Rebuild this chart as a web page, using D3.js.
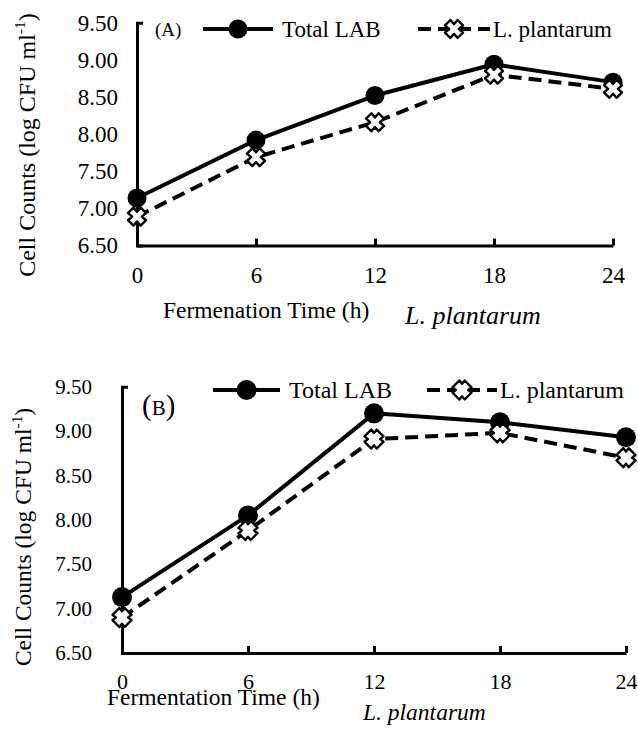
<!DOCTYPE html>
<html><head><meta charset="utf-8">
<script src="https://cdn.jsdelivr.net/npm/d3@7"></script>
<style>body{margin:0;background:#fff}svg{display:block}</style>
</head><body>
<svg id="c" width="638" height="733"></svg>
<script>
const hours = [0, 6, 12, 18, 24];
const yTicks = [6.5, 7.0, 7.5, 8.0, 8.5, 9.0, 9.5];
const seriesNames = ["Total LAB", "L. plantarum"];
const totalA = [7.14, 7.92, 8.52, 8.94, 8.70];
const plantA = [6.89, 7.69, 8.16, 8.80, 8.61];
const totalB = [7.13, 8.05, 9.20, 9.10, 8.93];
const plantB = [6.90, 7.88, 8.91, 8.98, 8.70];
const panelLabels = ["A", "B"];
const xTitles = ["Fermenation Time (h)", "Fermentation Time (h)"];
const subTitle = "L. plantarum";

const FONT = "'Liberation Serif','Times New Roman',serif";
const svg = d3.select("#c");

function xMarker(g, x, y, s, k) {
  // thick X shape, white fill with black outline
  const a = s / 2, w = s * k;
  const p = [[-a + w, -a], [0, -w*0.9], [a - w, -a], [a, -a + w], [w*0.9, 0], [a, a - w], [a - w, a], [0, w*0.9], [-a + w, a], [-a, a - w], [-w*0.9, 0], [-a, -a + w]];
  g.append("path")
    .attr("d", "M" + p.map(q => (q[0] + x).toFixed(2) + "," + (q[1] + y).toFixed(2)).join("L") + "Z")
    .attr("fill", "#fff").attr("stroke", "#000").attr("stroke-width", 2.4)
    .attr("stroke-linejoin", "round");
}

function panel(cfg) {
  const g = svg.append("g");
  const x = d3.scaleLinear().domain([0, 24]).range(cfg.xr);
  const y = d3.scaleLinear().domain([6.5, 9.5]).range(cfg.yr);

  const ya = g.append("g").attr("transform", `translate(${cfg.xr[0]},0)`)
    .call(d3.axisLeft(y).tickValues(yTicks).tickFormat(d3.format(".2f"))
      .tickSizeInner(0).tickSizeOuter(-6).tickPadding(cfg.yPad));
  ya.select(".domain").attr("stroke-width", 3);
  ya.selectAll("text").attr("font-family", FONT).attr("font-size", cfg.yFs).attr("fill", "#000");

  const xa = g.append("g").attr("transform", `translate(0,${cfg.yr[0]})`)
    .call(d3.axisBottom(x).tickValues(hours).tickSizeInner(-7).tickSizeOuter(0).tickPadding(cfg.xPad));
  xa.select(".domain").attr("stroke-width", 3);
  xa.selectAll(".tick line").attr("stroke-width", 3);
  xa.selectAll("text").attr("font-family", FONT).attr("font-size", cfg.xFs).attr("fill", "#000");

  const line = d3.line().x((d, i) => x(hours[i])).y(d => y(d));
  g.append("path").attr("d", line(cfg.total)).attr("fill", "none")
    .attr("stroke", "#000").attr("stroke-width", 4).attr("stroke-linejoin", "round");
  g.append("path").attr("d", line(cfg.plant)).attr("fill", "none")
    .attr("stroke", "#000").attr("stroke-width", 4).attr("stroke-dasharray", "13,7");

  cfg.total.forEach((d, i) => g.append("circle").attr("cx", x(hours[i])).attr("cy", y(d)).attr("r", cfg.r).attr("fill", "#000"));
  cfg.plant.forEach((d, i) => xMarker(g, x(hours[i]), y(d), cfg.ms, cfg.mk));

  const L = cfg.leg;
  g.append("line").attr("x1", L.x1a).attr("x2", L.x2a).attr("y1", L.y).attr("y2", L.y)
    .attr("stroke", "#000").attr("stroke-width", 4);
  g.append("circle").attr("cx", (L.x1a + L.x2a) / 2).attr("cy", L.y).attr("r", cfg.r).attr("fill", "#000");
  g.append("text").attr("x", L.x2a + 9).attr("y", L.y + 8).attr("font-family", FONT)
    .attr("font-size", L.fs).text(seriesNames[0]);
  g.append("line").attr("x1", L.x1b).attr("x2", L.x2b).attr("y1", L.y).attr("y2", L.y)
    .attr("stroke", "#000").attr("stroke-width", 4).attr("stroke-dasharray", "13,7");
  xMarker(g, (L.x1b + L.x2b) / 2, L.y, cfg.ms, cfg.mk);
  g.append("text").attr("x", L.x2b + 3).attr("y", L.y + 8).attr("font-family", FONT)
    .attr("font-size", L.fs).text(seriesNames[1]);

  const pl = g.append("text").attr("x", cfg.pl.x).attr("y", cfg.pl.y).attr("font-family", FONT)
    .attr("font-size", cfg.pl.fs);
  pl.append("tspan").attr("font-size", cfg.pl.pfs).text("(");
  pl.append("tspan").text(cfg.label);
  pl.append("tspan").attr("font-size", cfg.pl.pfs).text(")");

  const yt = g.append("text").attr("transform", `translate(${cfg.yt.x},${cfg.yt.y}) rotate(-90)`)
    .attr("text-anchor", "middle").attr("font-family", FONT).attr("font-size", cfg.yt.fs);
  yt.append("tspan").text("Cell Counts (log CFU ml");
  yt.append("tspan").attr("font-size", cfg.yt.fs * 0.65).attr("dy", -cfg.yt.fs * 0.4).text("-1");
  yt.append("tspan").attr("dy", cfg.yt.fs * 0.4).text(")");

  g.append("text").attr("x", cfg.xt.x).attr("y", cfg.xt.y).attr("font-family", FONT)
    .attr("font-size", cfg.xt.fs).text(cfg.xTitle);
  g.append("text").attr("x", cfg.st.x).attr("y", cfg.st.y).attr("font-family", FONT)
    .attr("font-style", "italic").attr("font-size", cfg.st.fs).text(subTitle);
}

panel({
  label: panelLabels[0], xTitle: xTitles[0], total: totalA, plant: plantA,
  xr: [137, 613], yr: [245.6, 22.7], yPad: 19, yFs: 23, xPad: 21, xFs: 23, r: 9.5, ms: 18, mk: 0.3,
  leg: { y: 29, x1a: 203, x2a: 273, x1b: 418, x2b: 490, fs: 23 },
  pl: { x: 155, y: 36, fs: 19, pfs: 19 },
  yt: { x: 35, y: 145, fs: 24 },
  xt: { x: 163, y: 318, fs: 23.5 },
  st: { x: 405, y: 324, fs: 26 }
});

panel({
  label: panelLabels[1], xTitle: xTitles[1], total: totalB, plant: plantB,
  xr: [122, 626], yr: [653, 386.7], yPad: 30, yFs: 21, xPad: 20, xFs: 22, r: 10, ms: 19, mk: 0.36,
  leg: { y: 390, x1a: 213, x2a: 280, x1b: 427, x2b: 497, fs: 24 },
  pl: { x: 142, y: 415, fs: 21, pfs: 29 },
  yt: { x: 31, y: 537, fs: 23.5 },
  xt: { x: 107, y: 705, fs: 23.5 },
  st: { x: 363, y: 720, fs: 23.5 }
});
</script>
</body></html>
